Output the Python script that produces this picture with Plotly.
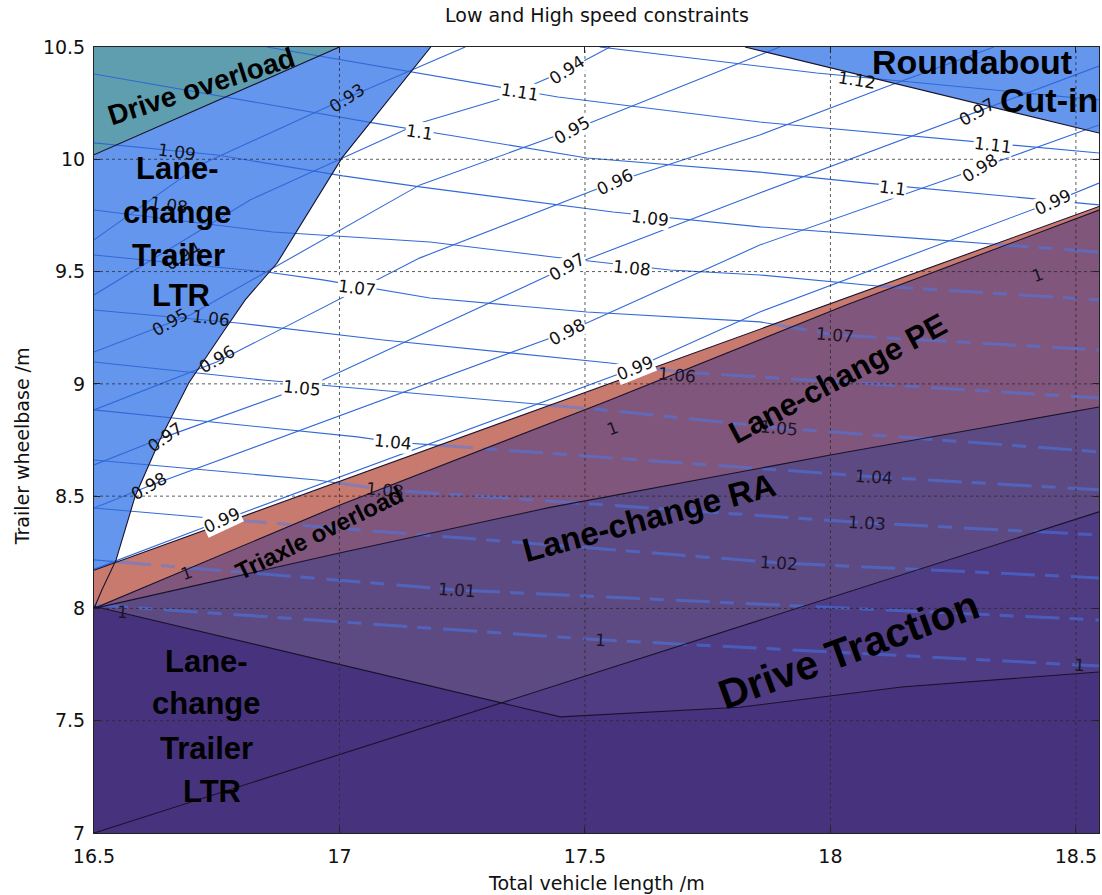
import numpy as np
import plotly.graph_objects as go

# ---------------- axes ----------------
X_MIN, X_MAX = 16.5, 18.547
Y_MIN, Y_MAX = 7.0, 10.5
x_ticks = [16.5, 17, 17.5, 18, 18.5]
x_ticktext = ["16.5", "17", "17.5", "18", "18.5"]
y_ticks = [7, 7.5, 8, 8.5, 9, 9.5, 10, 10.5]
y_ticktext = ["7", "7.5", "8", "8.5", "9", "9.5", "10", "10.5"]

# ---------------- constraint boundaries ----------------
drive_overload_x = [16.5, 17.0]
drive_overload_y = [10.02, 10.5]
ltr_upper_x = [16.5, 16.516, 16.545, 16.584, 16.634, 16.693, 16.763, 16.808, 16.873, 17.005, 17.186]
ltr_upper_y = [8.0, 8.082, 8.216, 8.501, 8.750, 9.004, 9.231, 9.374, 9.538, 10.006, 10.5]
roundabout_x = [17.826, 18.547]
roundabout_y = [10.5, 10.117]
triaxle_x = [16.5, 18.547]
triaxle_y = [8.17, 9.79]
pe_x = [16.5, 17.001, 17.551, 18.032, 18.547]
pe_y = [8.0, 8.461, 8.928, 9.351, 9.774]
ra_x = [16.5, 17.0, 17.429, 18.0, 18.547]
ra_y = [8.0, 8.247, 8.45, 8.683, 8.897]
dt_x = [16.5, 18.547]
dt_y = [7.0, 8.43]
ltr_lower_x = [16.5, 17.0, 17.45, 17.815, 18.145, 18.547]
ltr_lower_y = [8.01, 7.75, 7.517, 7.56, 7.65, 7.717]

# ---------------- descending contour lines ----------------
c112_x = [17.53, 17.972, 18.547]
c112_y = [10.5, 10.384, 10.264]
c111_x = [16.852, 17.164, 17.445, 17.856, 18.249, 18.547]
c111_y = [10.5, 10.384, 10.277, 10.166, 10.086, 10.028]
c110_x = [16.5, 16.777, 17.068, 17.221, 17.504, 17.856, 18.074, 18.547]
c110_y = [10.380, 10.273, 10.162, 10.108, 10.006, 9.943, 9.894, 9.797]
c109_x = [16.5, 16.751, 17.007, 17.164, 17.557, 17.856, 18.217, 18.547]
c109_y = [10.073, 10.019, 9.926, 9.877, 9.765, 9.699, 9.641, 9.587]
c108_x = [16.5, 16.865, 17.184, 17.435, 17.673, 17.856, 18.095, 18.547]
c108_y = [9.774, 9.676, 9.632, 9.565, 9.507, 9.485, 9.436, 9.374]
c107_x = [16.5, 16.852, 16.966, 17.184, 17.504, 17.856, 18.009, 18.547]
c107_y = [9.574, 9.498, 9.463, 9.382, 9.320, 9.276, 9.218, 9.151]
c106_x = [16.5, 16.793, 17.089, 17.551, 17.693, 18.547]
c106_y = [9.329, 9.271, 9.195, 9.093, 9.053, 8.937]
c105_x = [16.5, 16.844, 17.007, 17.537, 17.895, 18.547]
c105_y = [9.097, 9.017, 8.986, 8.884, 8.804, 8.697]
c104_x = [16.5, 17.036, 17.109, 18.089, 18.547]
c104_y = [8.884, 8.764, 8.741, 8.586, 8.528]
c103_x = [16.5, 16.954, 17.093, 18.074, 18.547]
c103_y = [8.661, 8.572, 8.528, 8.381, 8.327]
c102_x = [16.5, 16.783, 17.895, 18.547]
c102_y = [8.447, 8.394, 8.203, 8.136]
c101_x = [16.5, 17.239, 18.547]
c101_y = [8.216, 8.082, 7.949]
c100_x = [16.5, 17.531, 18.547]
c100_y = [8.016, 7.860, 7.744]

# ---------------- ascending contour lines ----------------
a093_x = [16.5, 16.716, 17.015, 17.170, 17.256]
a093_y = [9.641, 9.975, 10.273, 10.420, 10.5]
a094_x = [16.5, 16.818, 17.164, 17.321, 17.463, 17.551]
a094_y = [9.396, 9.819, 10.162, 10.264, 10.398, 10.5]
a095_x = [16.5, 16.696, 17.164, 17.474, 17.856, 17.897]
a095_y = [9.142, 9.307, 9.886, 10.130, 10.464, 10.5]
a096_x = [16.5, 16.751, 17.164, 17.561, 17.856, 18.107, 18.333]
a096_y = [8.884, 9.098, 9.561, 9.899, 10.108, 10.317, 10.5]
a097_x = [16.5, 16.645, 16.966, 17.463, 17.856, 18.298, 18.547]
a097_y = [8.639, 8.764, 9.017, 9.520, 9.850, 10.211, 10.415]
a098_x = [16.5, 16.612, 17.463, 17.856, 18.304, 18.547]
a098_y = [8.447, 8.545, 9.231, 9.618, 9.961, 10.153]
a099_x = [16.5, 16.761, 17.602, 17.856, 18.453, 18.547]
a099_y = [8.175, 8.392, 9.071, 9.320, 9.810, 9.894]

desc_lines = [(c112_x, c112_y), (c111_x, c111_y), (c110_x, c110_y), (c109_x, c109_y),
              (c108_x, c108_y), (c107_x, c107_y), (c106_x, c106_y), (c105_x, c105_y),
              (c104_x, c104_y), (c103_x, c103_y), (c102_x, c102_y), (c101_x, c101_y),
              (c100_x, c100_y)]
asc_lines = [(a093_x, a093_y), (a094_x, a094_y), (a095_x, a095_y), (a096_x, a096_y),
             (a097_x, a097_y), (a098_x, a098_y), (a099_x, a099_y)]

# contour labels: text, x, y, angle, style (w = white box, n = plain, p = on purple)
contour_labels = [
    ("1.12", 18.054, 10.353, 9, "n"), ("1.11", 17.368, 10.300, 9, "w"),
    ("1.11", 18.331, 10.064, 7, "w"), ("1.1", 17.162, 10.122, 9, "w"),
    ("1.1", 18.127, 9.872, 7, "w"), ("1.09", 17.632, 9.739, 7, "w"),
    ("1.09", 16.669, 10.033, 8, "n"), ("1.08", 16.653, 9.797, 8, "n"),
    ("1.08", 17.596, 9.516, 6, "w"), ("1.07", 17.036, 9.427, 7, "w"),
    ("1.07", 18.009, 9.218, 5, "p"), ("0.95", 16.655, 9.276, -30, "n"),
    ("1.06", 16.738, 9.293, 7, "n"), ("1.06", 17.687, 9.040, 5, "p"),
    ("1.05", 16.924, 8.982, 6, "w"), ("1.05", 17.895, 8.804, 5, "p"),
    ("1.04", 17.109, 8.741, 6, "w"), ("1.04", 18.089, 8.586, 4, "p"),
    ("1.03", 17.093, 8.528, 5, "p"), ("1.03", 18.074, 8.381, 4, "p"),
    ("1.02", 17.895, 8.203, 4, "p"), ("1.01", 17.239, 8.082, 4, "p"),
    ("1", 17.531, 7.860, 3, "p"), ("1", 18.508, 7.749, 3, "p"), ("1", 16.559, 7.984, 3, "p"),
    ("0.93", 17.015, 10.273, -33, "n"), ("0.94", 17.463, 10.398, -33, "w"),
    ("0.94", 16.681, 9.569, -30, "n"), ("0.95", 17.474, 10.130, -30, "w"),
    ("0.96", 17.561, 9.899, -26, "w"), ("0.96", 16.751, 9.111, -30, "n"),
    ("0.97", 17.463, 9.520, -30, "w"), ("0.97", 16.645, 8.764, -35, "n"),
    ("0.97", 18.298, 10.211, -30, "n"), ("0.98", 17.463, 9.231, -28, "w"),
    ("0.98", 18.304, 9.961, -32, "w"), ("0.98", 16.612, 8.545, -30, "n"),
    ("0.99", 16.761, 8.392, -25, "w"), ("0.99", 17.602, 9.071, -22, "w"),
    ("0.99", 18.453, 9.810, -25, "w"),
    ("1", 16.689, 8.158, -20, "p"), ("1", 17.557, 8.804, -20, "p"), ("1", 18.421, 9.485, -20, "p"),
]

# ---------------- colours ----------------
C_BLUE = "rgb(100,150,238)"
C_TEAL = "rgb(95,158,175)"
C_SALMON = "rgb(200,122,110)"
C_PE = "rgb(128,86,124)"
C_RA = "rgb(94,74,130)"
C_DT = "rgb(80,60,130)"
C_LTR = "rgb(71,51,125)"
C_LINE = "rgb(50,105,215)"
C_STREAK = "rgb(70,125,245)"
C_EDGE = "rgb(25,18,45)"


def split_by_line(xs, ys, bx, by):
    """Split a polyline into the parts above and below a boundary polyline."""
    d = [y - float(np.interp(x, bx, by)) for x, y in zip(xs, ys)]
    ax, ay, bxs, bys = [], [], [], []
    for i in range(len(xs)):
        if i > 0 and d[i - 1] * d[i] < 0:
            t = d[i - 1] / (d[i - 1] - d[i])
            xc = xs[i - 1] + t * (xs[i] - xs[i - 1])
            yc = ys[i - 1] + t * (ys[i] - ys[i - 1])
            if d[i - 1] > 0:
                ax += [xc, None]; ay += [yc, None]
                bxs += [xc]; bys += [yc]
            else:
                bxs += [xc, None]; bys += [yc, None]
                ax += [xc]; ay += [yc]
        if d[i] >= 0:
            ax.append(xs[i]); ay.append(ys[i])
        if d[i] <= 0:
            bxs.append(xs[i]); bys.append(ys[i])
    return ax, ay, bxs, bys


fig = go.Figure()


def poly(xs, ys, color):
    fig.add_trace(go.Scatter(x=xs, y=ys, fill="toself", fillcolor=color, mode="lines",
                             line=dict(width=0, color=color), hoverinfo="skip", showlegend=False))


def line(xs, ys, color, width, dash="solid", opacity=1.0):
    fig.add_trace(go.Scatter(x=xs, y=ys, mode="lines", opacity=opacity,
                             line=dict(color=color, width=width, dash=dash),
                             hoverinfo="skip", showlegend=False, connectgaps=False))


# upper blue regions
poly(ltr_upper_x + [X_MIN], ltr_upper_y + [Y_MAX], C_BLUE)
poly(drive_overload_x + [X_MIN], drive_overload_y + [Y_MAX], C_TEAL)
poly(roundabout_x + [X_MAX], roundabout_y + [Y_MAX], C_BLUE)

# thin contour lines in the upper part
for xs, ys in asc_lines:
    line(xs, ys, C_LINE, 1.1)
streaks = []
for xs, ys in desc_lines:
    ax, ay, bxs, bys = split_by_line(xs, ys, triaxle_x, triaxle_y)
    if ax:
        line(ax, ay, C_LINE, 1.1)
    if bxs:
        streaks.append((bxs, bys))

# lower constraint regions
poly(triaxle_x + [X_MAX, X_MIN], triaxle_y + [Y_MIN, Y_MIN], C_SALMON)
poly(pe_x + [X_MAX, X_MIN], pe_y + [Y_MIN, Y_MIN], C_PE)
poly(ra_x + [X_MAX, X_MIN], ra_y + [Y_MIN, Y_MIN], C_RA)
poly(dt_x + [X_MAX], dt_y + [Y_MIN], C_DT)

# bright streaks of contour lines inside the coloured regions
for bxs, bys in streaks:
    line(bxs, bys, C_STREAK, 3, dash="34px,10px,14px,12px", opacity=0.5)

poly(ltr_lower_x + [X_MAX, X_MIN], ltr_lower_y + [Y_MIN, Y_MIN], C_LTR)

# boundary edges
for bx, by in [(drive_overload_x, drive_overload_y), (ltr_upper_x, ltr_upper_y),
               (roundabout_x, roundabout_y), (triaxle_x, triaxle_y), (pe_x, pe_y),
               (ra_x, ra_y), (dt_x, dt_y), (ltr_lower_x, ltr_lower_y)]:
    line(bx, by, C_EDGE, 1.1)

# ---------------- annotations ----------------
ann = []
NUM_FONT = "DejaVu Sans, Liberation Sans, sans-serif"
for txt, x, y, ang, style in contour_labels:
    a = dict(text=txt, x=x, y=y, xref="x", yref="y", showarrow=False, textangle=ang,
             font=dict(family=NUM_FONT, size=17, color="#1a1426" if style == "p" else "#111111"),
             borderpad=0)
    if style == "w":
        a["bgcolor"] = "white"
    ann.append(a)

BOLD = "Liberation Sans, Arial, sans-serif"
region_labels = [
    ("Drive overload", 16.718, 10.326, -18, 28),
    ("Lane-", 16.671, 9.960, 0, 31),
    ("change", 16.671, 9.765, 0, 31),
    ("Trailer", 16.673, 9.573, 0, 31),
    ("LTR", 16.677, 9.395, 0, 31),
    ("Roundabout", 18.288, 10.433, 0, 34),
    ("Cut-in", 18.445, 10.264, 0, 34),
    ("Triaxle overload", 16.960, 8.336, -26, 24),
    ("Lane-change PE", 18.015, 9.026, -28, 31),
    ("Lane-change RA", 17.630, 8.403, -15, 33),
    ("Drive Traction", 18.036, 7.815, -20, 41),
    ("Lane-", 16.73, 7.762, 0, 31),
    ("change", 16.73, 7.575, 0, 31),
    ("Trailer", 16.73, 7.375, 0, 31),
    ("LTR", 16.74, 7.183, 0, 31),
]
for txt, x, y, ang, size in region_labels:
    ann.append(dict(text="<b>%s</b>" % txt, x=x, y=y, xref="x", yref="y", showarrow=False,
                    textangle=ang, font=dict(family=BOLD, size=size, color="black")))

TXT_FONT = "DejaVu Sans, Liberation Sans, sans-serif"
ann.append(dict(text="Low and High speed constraints", x=0.5, y=1.0407, xref="paper", yref="paper",
                showarrow=False, yanchor="middle", font=dict(family=TXT_FONT, size=19, color="#111")))
ann.append(dict(text="Total vehicle length /m", x=0.5, y=-0.0636, xref="paper", yref="paper",
                showarrow=False, yanchor="middle", font=dict(family=TXT_FONT, size=19, color="#111")))
ann.append(dict(text="Trailer wheelbase /m", x=-0.0716, y=0.492, xref="paper", yref="paper",
                showarrow=False, textangle=-90, xanchor="center", yanchor="middle",
                font=dict(family=TXT_FONT, size=19, color="#111")))

# dotted grid above the filled regions
shapes = []
for xv in x_ticks[1:]:
    shapes.append(dict(type="line", xref="x", yref="paper", x0=xv, x1=xv, y0=0, y1=1,
                       layer="above", line=dict(color="rgba(40,40,40,0.75)", width=1, dash="dot")))
for yv in y_ticks[1:-1]:
    shapes.append(dict(type="line", xref="paper", yref="y", x0=0, x1=1, y0=yv, y1=yv,
                       layer="above", line=dict(color="rgba(40,40,40,0.75)", width=1, dash="dot")))

axis_common = dict(showgrid=False, zeroline=False, showline=True, linecolor="#222", linewidth=1,
                   mirror="ticks", ticks="inside", ticklen=6, tickcolor="#222",
                   tickfont=dict(family=TXT_FONT, size=19, color="#111"))

fig.update_layout(
    width=1102, height=895,
    margin=dict(l=94, r=3, t=47, b=62),
    paper_bgcolor="white", plot_bgcolor="white",
    showlegend=False,
    xaxis=dict(range=[X_MIN, X_MAX], tickvals=x_ticks, ticktext=x_ticktext,
               ticklabelstandoff=6, **axis_common),
    yaxis=dict(range=[Y_MIN, Y_MAX], tickvals=y_ticks, ticktext=y_ticktext,
               ticklabelstandoff=4, **axis_common),
    annotations=ann,
    shapes=shapes,
)

fig.write_html("out.html")
